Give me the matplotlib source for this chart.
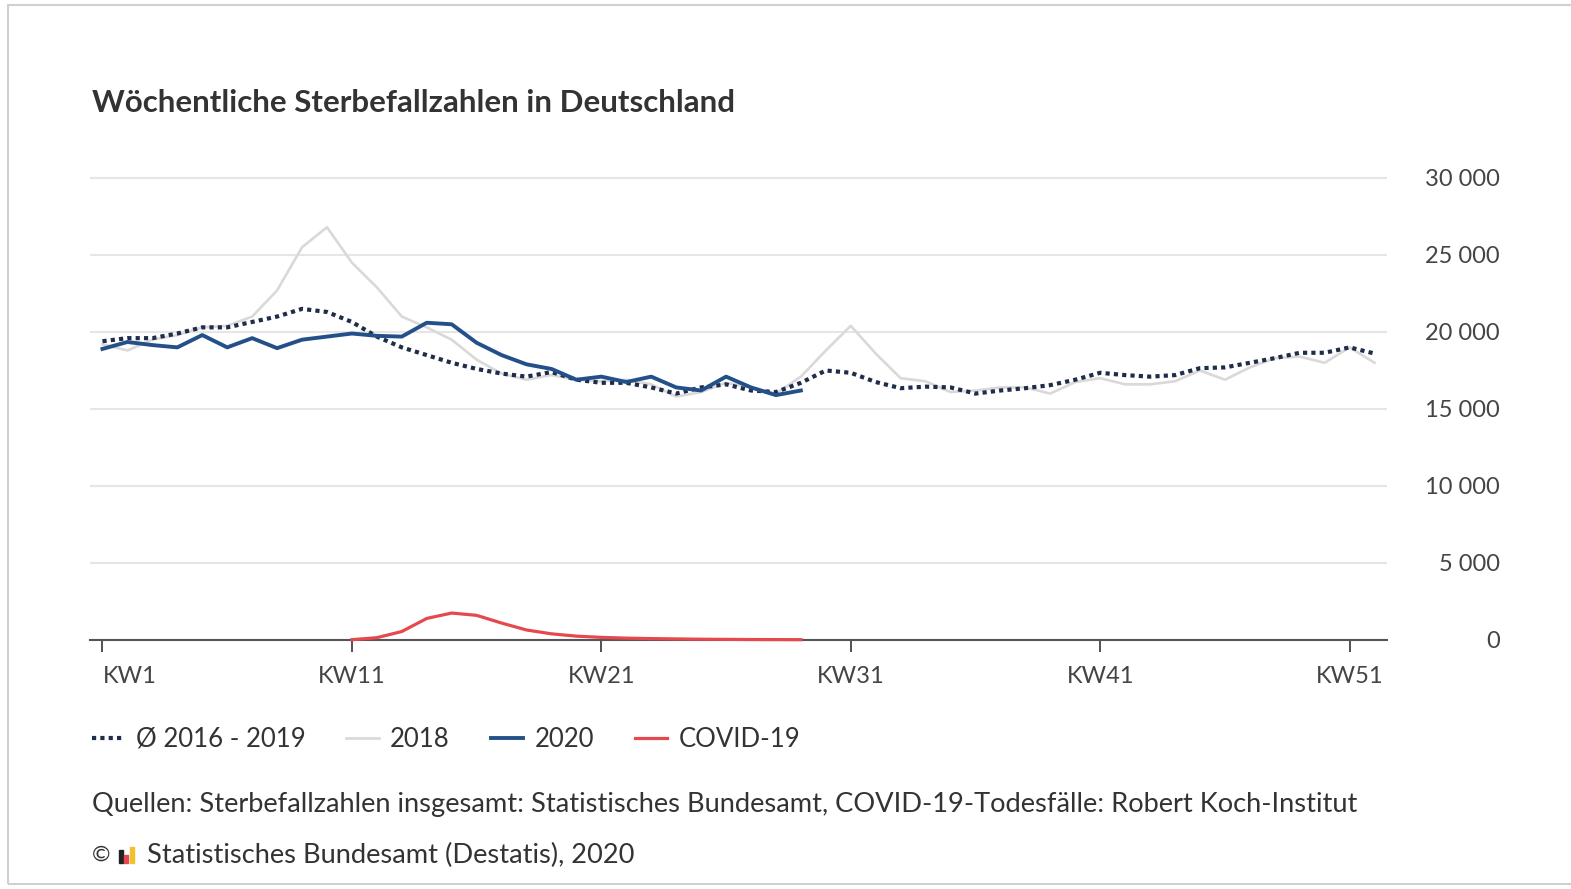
import matplotlib
matplotlib.use("Agg")
import matplotlib.pyplot as plt
from matplotlib.patches import Rectangle

plt.rcParams['font.family'] = ['Lato', 'DejaVu Sans']

weeks = list(range(1, 53))

avg_2016_2019 = [19400, 19600, 19600, 19900, 20300, 20300, 20650, 21000, 21500, 21300,
                 20650, 19700, 19000, 18500, 18000, 17600, 17300, 17100, 17400, 16900,
                 16700, 16700, 16400, 16000, 16400, 16600, 16200, 16100, 16700, 17500,
                 17350, 16750, 16350, 16450, 16400, 16000, 16200, 16350, 16550, 16900,
                 17350, 17200, 17100, 17200, 17650, 17700, 18000, 18300, 18650, 18650,
                 19000, 18600]

deaths_2018 = [19200, 18800, 19500, 19800, 20300, 20400, 21000, 22700, 25500, 26800,
               24500, 22900, 21000, 20300, 19500, 18200, 17300, 16900, 17200, 16900,
               16800, 16900, 16600, 15800, 16100, 16700, 16400, 16000, 17100, 18800,
               20400, 18600, 17000, 16800, 16100, 16200, 16400, 16400, 16000, 16750,
               17000, 16600, 16600, 16800, 17500, 16900, 17700, 18300, 18400, 18000,
               19000, 18000]

weeks_2020 = list(range(1, 30))
deaths_2020 = [18900, 19350, 19150, 19000, 19800, 19000, 19600, 18950, 19500, 19700,
               19900, 19750, 19700, 20600, 20500, 19300, 18500, 17900, 17600, 16900,
               17100, 16750, 17100, 16400, 16200, 17100, 16400, 15900, 16200]

weeks_covid = list(range(11, 30))
deaths_covid = [20, 150, 550, 1400, 1750, 1600, 1100, 650, 400, 250,
                170, 120, 90, 70, 50, 40, 30, 25, 20]

xtick_weeks = [1, 11, 21, 31, 41, 51]
xtick_labels = ["KW1", "KW11", "KW21", "KW31", "KW41", "KW51"]
ytick_values = [0, 5000, 10000, 15000, 20000, 25000, 30000]

title = "Wöchentliche Sterbefallzahlen in Deutschland"
source = "Quellen: Sterbefallzahlen insgesamt: Statistisches Bundesamt, COVID-19-Todesfälle: Robert Koch-Institut"
copyright_text = "Statistisches Bundesamt (Destatis), 2020"

c_avg = "#1e2d4a"
c_2018 = "#d9d9d9"
c_2020 = "#24508a"
c_covid = "#e5484d"
c_text = "#333333"

fig = plt.figure(figsize=(15.71, 8.89), dpi=100)
ax = fig.add_axes([0.0573, 0.2801, 0.8256, 0.5249])

ax.plot(weeks, deaths_2018, color=c_2018, lw=1.9, zorder=2, label="2018")
ax.plot(weeks, avg_2016_2019, color=c_avg, lw=3, linestyle=(0, (1, 1)), zorder=3,
        label="Ø 2016 - 2019")
ax.plot(weeks_2020, deaths_2020, color=c_2020, lw=2.8, zorder=4, label="2020")
ax.plot(weeks_covid, deaths_covid, color=c_covid, lw=2.3, zorder=5, clip_on=False,
        label="COVID-19")

ax.set_xlim(0.5, 52.5)
ax.set_ylim(0, 30300)

for s in ["top", "left", "right"]:
    ax.spines[s].set_visible(False)
ax.spines["bottom"].set_color("#555555")
ax.spines["bottom"].set_linewidth(1.5)

ax.set_xticks(xtick_weeks)
ax.set_xticklabels(xtick_labels)
ax.tick_params(axis="x", direction="out", length=8.5, width=1.3, color="#444444",
               labelsize=17, labelcolor="#444444", pad=10.5)
ax.get_xticklabels()[0].set_ha("left")

ax.yaxis.tick_right()
ax.set_yticks(ytick_values)
ax.set_yticklabels([f"{v:,}".replace(",", " ") for v in ytick_values])
ax.tick_params(axis="y", length=0, labelsize=17, labelcolor="#444444", pad=81)
for lab in ax.get_yticklabels():
    lab.set_ha("right")
ax.grid(axis="y", color="#e6e6e6", lw=1.5)
ax.set_axisbelow(True)

handles, labels = ax.get_legend_handles_labels()
order = [1, 0, 2, 3]
leg = ax.legend([handles[i] for i in order], [labels[i] for i in order],
                loc="center left", bbox_to_anchor=(0.0585, 0.1686),
                bbox_transform=fig.transFigure, ncol=4, frameon=False,
                fontsize=18.5, handlelength=1.25, handletextpad=0.45,
                columnspacing=1.6, borderaxespad=0, borderpad=0)
for t in leg.get_texts():
    t.set_color(c_text)

fig.text(0.0585, 0.8842, title, fontsize=22.5, fontweight="bold", color=c_text,
         va="center", ha="left")
fig.text(0.0585, 0.0945, source, fontsize=19.6, color=c_text, va="center", ha="left")
fig.text(0.0585, 0.0382, "©", fontsize=16, color=c_text, va="center", ha="left")
# little destatis logo
for dx, h, col in [(0, 0.014, "#222222"), (0.0035, 0.009, "#e5484d"), (0.007, 0.018, "#f2c12e")]:
    fig.patches.append(Rectangle((0.0755 + dx, 0.0295), 0.0025, h,
                                 transform=fig.transFigure, color=col))
fig.text(0.0935, 0.0382, copyright_text, fontsize=19.6, color=c_text, va="center", ha="left")

fig.patches.append(Rectangle((0.0051, 0.0056), 1.1, 0.9888, transform=fig.transFigure,
                             fill=False, edgecolor="#d0d0d0", lw=1.5))

fig.savefig("out.png", dpi=100)
